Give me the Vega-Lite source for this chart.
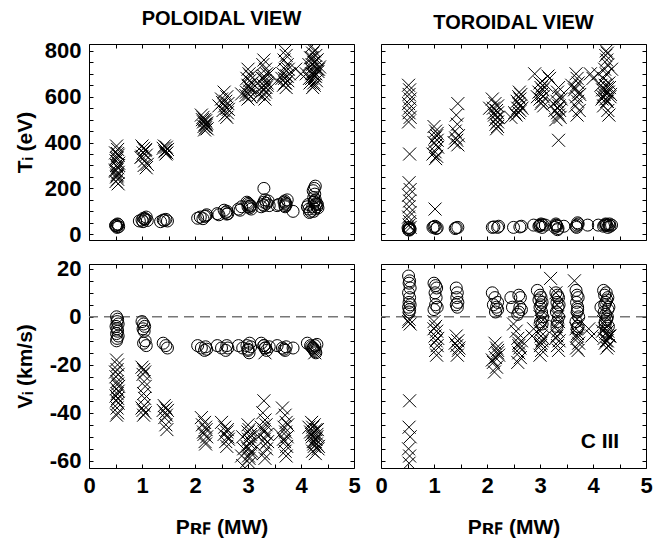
{
  "$schema": "https://vega.github.io/schema/vega-lite/v6.json",
  "background": "white",
  "padding": {"left": 13, "top": 8, "right": 0, "bottom": 0},
  "config": {
    "view": {"stroke": "black", "strokeWidth": 1},
    "font": "Liberation Sans",
    "axis": {"domain": false, "grid": false, "tickSize": -4, "tickColor": "black", "tickWidth": 1, "labelFont": "Liberation Sans", "labelFontSize": 22, "labelFontWeight": "bold", "labelColor": "black", "labelFlush": false, "labelOverlap": false, "titleFont": "Liberation Sans", "titleFontSize": 21, "titleFontWeight": "bold", "titleColor": "black", "minExtent": 0},
    "title": {"font": "Liberation Sans", "fontSize": 20, "fontWeight": "bold", "color": "black", "offset": 11}
  },
  "datasets": {
    "tlx": [{"p":0.52,"y":385},{"p":0.54,"y":370},{"p":0.5,"y":355},{"p":0.55,"y":345},{"p":0.53,"y":335},{"p":0.51,"y":320},{"p":0.56,"y":310},{"p":0.52,"y":300},{"p":0.54,"y":290},{"p":0.5,"y":280},{"p":0.55,"y":270},{"p":0.53,"y":260},{"p":0.52,"y":250},{"p":0.54,"y":240},{"p":0.51,"y":230},{"p":0.55,"y":220},{"p":0.53,"y":255},{"p":0.5,"y":275},{"p":0.56,"y":300},{"p":0.52,"y":330},{"p":0.54,"y":352},
      {"p":1.0,"y":385},{"p":1.03,"y":375},{"p":1.06,"y":365},{"p":1.02,"y":355},{"p":1.08,"y":345},{"p":0.98,"y":335},{"p":1.05,"y":320},{"p":1.1,"y":305},{"p":1.08,"y":290},{"p":1.04,"y":300},{"p":1.0,"y":340},{"p":1.07,"y":370},
      {"p":1.42,"y":385},{"p":1.46,"y":380},{"p":1.4,"y":375},{"p":1.48,"y":370},{"p":1.44,"y":365},{"p":1.43,"y":360},{"p":1.47,"y":355},{"p":1.45,"y":350},
      {"p":2.12,"y":520},{"p":2.15,"y":510},{"p":2.18,"y":500},{"p":2.2,"y":495},{"p":2.16,"y":490},{"p":2.22,"y":485},{"p":2.19,"y":480},{"p":2.21,"y":475},{"p":2.17,"y":470},{"p":2.2,"y":465},{"p":2.23,"y":460},{"p":2.18,"y":455},{"p":2.14,"y":500},{"p":2.21,"y":480},
      {"p":2.55,"y":620},{"p":2.6,"y":600},{"p":2.5,"y":590},{"p":2.58,"y":580},{"p":2.62,"y":570},{"p":2.56,"y":560},{"p":2.6,"y":550},{"p":2.53,"y":540},{"p":2.61,"y":530},{"p":2.57,"y":520},{"p":2.6,"y":510},{"p":2.45,"y":560},{"p":2.63,"y":545},{"p":2.52,"y":575},
      {"p":2.88,"y":612},{"p":3.0,"y":720},{"p":3.02,"y":700},{"p":3.05,"y":690},{"p":2.98,"y":680},{"p":3.03,"y":670},{"p":3.07,"y":660},{"p":3.0,"y":650},{"p":3.04,"y":640},{"p":3.06,"y":630},{"p":2.97,"y":620},{"p":3.02,"y":610},{"p":3.05,"y":600},{"p":3.0,"y":590},{"p":3.08,"y":660},{"p":3.01,"y":645},{"p":3.03,"y":625},{"p":2.96,"y":605},
      {"p":3.3,"y":760},{"p":3.28,"y":740},{"p":3.33,"y":720},{"p":3.35,"y":700},{"p":3.3,"y":690},{"p":3.27,"y":680},{"p":3.32,"y":670},{"p":3.36,"y":660},{"p":3.29,"y":650},{"p":3.34,"y":640},{"p":3.31,"y":630},{"p":3.33,"y":620},{"p":3.3,"y":610},{"p":3.28,"y":600},{"p":3.32,"y":590},{"p":3.36,"y":650},{"p":3.3,"y":680},{"p":3.4,"y":700},{"p":3.26,"y":640},{"p":3.2,"y":610},
      {"p":3.55,"y":670},{"p":3.7,"y":800},{"p":3.72,"y":780},{"p":3.68,"y":760},{"p":3.74,"y":740},{"p":3.7,"y":720},{"p":3.66,"y":700},{"p":3.73,"y":690},{"p":3.69,"y":680},{"p":3.75,"y":670},{"p":3.71,"y":660},{"p":3.67,"y":650},{"p":3.72,"y":640},{"p":3.78,"y":700},{"p":3.64,"y":680},{"p":3.7,"y":660},{"p":3.76,"y":720},{"p":3.74,"y":690},
      {"p":3.9,"y":720},{"p":4.0,"y":700},
      {"p":4.2,"y":820},{"p":4.25,"y":800},{"p":4.22,"y":790},{"p":4.28,"y":780},{"p":4.18,"y":770},{"p":4.3,"y":760},{"p":4.24,"y":750},{"p":4.21,"y":740},{"p":4.27,"y":730},{"p":4.19,"y":720},{"p":4.32,"y":710},{"p":4.23,"y":700},{"p":4.26,"y":690},{"p":4.2,"y":680},{"p":4.29,"y":670},{"p":4.17,"y":660},{"p":4.25,"y":650},{"p":4.22,"y":640},{"p":4.3,"y":760},{"p":4.15,"y":740},{"p":4.33,"y":720},{"p":4.28,"y":700},{"p":4.16,"y":680},{"p":4.24,"y":660},{"p":4.31,"y":720},{"p":4.2,"y":700},{"p":4.27,"y":690},{"p":4.23,"y":710},{"p":4.35,"y":730},{"p":4.26,"y":750},{"p":4.21,"y":770},{"p":4.1,"y":700}],
    "tlo": [{"p":0.52,"y":35},{"p":0.55,"y":42},{"p":0.5,"y":38},{"p":0.53,"y":30},{"p":0.54,"y":45},{"p":0.51,"y":40},{"p":0.56,"y":33},
      {"p":0.95,"y":58},{"p":1.0,"y":62},{"p":1.03,"y":70},{"p":1.05,"y":65},{"p":1.08,"y":75},{"p":1.02,"y":55},{"p":1.06,"y":68},{"p":1.1,"y":60},
      {"p":1.35,"y":55},{"p":1.42,"y":60},{"p":1.45,"y":65},{"p":1.48,"y":58},{"p":1.4,"y":62},
      {"p":2.05,"y":70},{"p":2.1,"y":75},{"p":2.15,"y":68},{"p":2.2,"y":80},{"p":2.22,"y":85},{"p":2.18,"y":78},
      {"p":2.45,"y":85},{"p":2.42,"y":90},{"p":2.58,"y":95},{"p":2.6,"y":100},{"p":2.62,"y":90},{"p":2.55,"y":105},{"p":2.6,"y":88},
      {"p":2.82,"y":110},{"p":2.88,"y":120},{"p":2.85,"y":105},{"p":3.0,"y":120},{"p":3.02,"y":130},{"p":3.05,"y":125},{"p":2.98,"y":140},{"p":3.03,"y":115},{"p":3.06,"y":110},{"p":3.0,"y":135},{"p":3.04,"y":122},
      {"p":3.25,"y":120},{"p":3.28,"y":130},{"p":3.3,"y":140},{"p":3.32,"y":150},{"p":3.35,"y":135},{"p":3.3,"y":125},{"p":3.3,"y":200},{"p":3.4,"y":125},{"p":3.38,"y":145},
      {"p":3.55,"y":125},{"p":3.58,"y":130},{"p":3.7,"y":120},{"p":3.72,"y":130},{"p":3.68,"y":140},{"p":3.74,"y":150},{"p":3.7,"y":125},{"p":3.71,"y":135},{"p":3.69,"y":145},{"p":3.85,"y":100},
      {"p":4.12,"y":120},{"p":4.15,"y":110},{"p":4.18,"y":100},{"p":4.14,"y":130},{"p":4.16,"y":95},{"p":4.25,"y":140},{"p":4.27,"y":150},{"p":4.24,"y":160},{"p":4.26,"y":175},{"p":4.25,"y":200},{"p":4.27,"y":210},{"p":4.23,"y":190},{"p":4.28,"y":130},{"p":4.22,"y":120},{"p":4.26,"y":110},{"p":4.24,"y":100},{"p":4.29,"y":135},{"p":4.25,"y":145},{"p":4.3,"y":120},{"p":4.32,"y":115},{"p":4.31,"y":130}],
    "trx": [{"p":0.52,"y":650},{"p":0.54,"y":630},{"p":0.53,"y":610},{"p":0.55,"y":590},{"p":0.52,"y":570},{"p":0.54,"y":550},{"p":0.53,"y":530},{"p":0.55,"y":510},{"p":0.52,"y":490},{"p":0.54,"y":350},{"p":0.53,"y":225},{"p":0.55,"y":195},{"p":0.52,"y":170},{"p":0.54,"y":145},{"p":0.53,"y":120},{"p":0.55,"y":95},{"p":0.52,"y":75},{"p":0.54,"y":55},{"p":0.53,"y":40},{"p":0.55,"y":30},
      {"p":1.0,"y":470},{"p":1.03,"y":450},{"p":1.05,"y":430},{"p":1.02,"y":420},{"p":1.06,"y":410},{"p":1.0,"y":400},{"p":1.04,"y":390},{"p":1.07,"y":380},{"p":1.02,"y":360},{"p":1.05,"y":340},{"p":1.03,"y":330},{"p":0.98,"y":350},{"p":1.06,"y":440},{"p":1.02,"y":110},
      {"p":1.45,"y":570},{"p":1.42,"y":520},{"p":1.44,"y":480},{"p":1.4,"y":450},{"p":1.46,"y":430},{"p":1.43,"y":410},{"p":1.38,"y":400},{"p":1.45,"y":390},{"p":1.41,"y":420},
      {"p":2.1,"y":590},{"p":2.15,"y":570},{"p":2.2,"y":560},{"p":2.12,"y":550},{"p":2.18,"y":540},{"p":2.2,"y":530},{"p":2.14,"y":520},{"p":2.19,"y":510},{"p":2.16,"y":500},{"p":2.2,"y":490},{"p":2.17,"y":480},{"p":2.2,"y":470},{"p":2.18,"y":460},{"p":2.05,"y":550},{"p":2.13,"y":530},{"p":2.21,"y":510},
      {"p":2.45,"y":510},{"p":2.55,"y":520},{"p":2.6,"y":530},{"p":2.62,"y":540},{"p":2.58,"y":550},{"p":2.63,"y":560},{"p":2.6,"y":570},{"p":2.57,"y":580},{"p":2.62,"y":590},{"p":2.6,"y":600},{"p":2.64,"y":610},{"p":2.61,"y":620},{"p":2.52,"y":530},{"p":2.66,"y":550},
      {"p":2.9,"y":700},{"p":3.0,"y":660},{"p":3.02,"y":640},{"p":3.05,"y":630},{"p":2.98,"y":620},{"p":3.03,"y":610},{"p":3.06,"y":600},{"p":3.0,"y":590},{"p":3.04,"y":580},{"p":3.02,"y":570},{"p":3.07,"y":560},{"p":3.15,"y":690},{"p":3.18,"y":680},{"p":3.12,"y":650},{"p":2.95,"y":600},{"p":3.05,"y":650},
      {"p":3.35,"y":640},{"p":3.33,"y":620},{"p":3.38,"y":600},{"p":3.32,"y":580},{"p":3.36,"y":560},{"p":3.34,"y":550},{"p":3.37,"y":540},{"p":3.33,"y":530},{"p":3.35,"y":520},{"p":3.38,"y":510},{"p":3.3,"y":500},{"p":3.35,"y":410},{"p":3.4,"y":590},{"p":3.25,"y":570},{"p":3.28,"y":540},
      {"p":3.68,"y":700},{"p":3.7,"y":680},{"p":3.72,"y":660},{"p":3.66,"y":640},{"p":3.73,"y":620},{"p":3.69,"y":600},{"p":3.71,"y":580},{"p":3.67,"y":560},{"p":3.74,"y":540},{"p":3.7,"y":520},{"p":3.6,"y":650},{"p":3.65,"y":630},{"p":3.75,"y":610},
      {"p":3.95,"y":700},{"p":4.0,"y":680},
      {"p":4.25,"y":800},{"p":4.27,"y":790},{"p":4.24,"y":780},{"p":4.26,"y":760},{"p":4.28,"y":740},{"p":4.22,"y":720},{"p":4.25,"y":700},{"p":4.2,"y":680},{"p":4.3,"y":660},{"p":4.23,"y":650},{"p":4.27,"y":640},{"p":4.18,"y":630},{"p":4.29,"y":620},{"p":4.21,"y":610},{"p":4.32,"y":600},{"p":4.24,"y":590},{"p":4.26,"y":580},{"p":4.2,"y":560},{"p":4.28,"y":540},{"p":4.3,"y":520},{"p":4.15,"y":650},{"p":4.22,"y":630},{"p":4.33,"y":610},{"p":4.17,"y":590},{"p":4.26,"y":620},{"p":4.31,"y":640},{"p":4.19,"y":600},{"p":4.27,"y":580},{"p":4.1,"y":700},{"p":4.35,"y":720}],
    "tro": [{"p":0.52,"y":20},{"p":0.54,"y":25},{"p":0.53,"y":30},{"p":0.55,"y":22},{"p":0.51,"y":28},{"p":0.53,"y":18},
      {"p":0.98,"y":30},{"p":1.02,"y":35},{"p":1.04,"y":25},{"p":1.0,"y":32},{"p":1.06,"y":28},
      {"p":1.4,"y":25},{"p":1.45,"y":30},{"p":1.42,"y":28},
      {"p":2.1,"y":30},{"p":2.13,"y":32},{"p":2.2,"y":30},{"p":2.22,"y":35},
      {"p":2.5,"y":30},{"p":2.62,"y":32},{"p":2.65,"y":35},
      {"p":2.88,"y":40},{"p":2.98,"y":35},{"p":3.0,"y":40},{"p":3.02,"y":45},{"p":3.04,"y":30},{"p":3.0,"y":38},{"p":3.05,"y":42},{"p":3.1,"y":40},
      {"p":3.28,"y":30},{"p":3.3,"y":40},{"p":3.32,"y":35},{"p":3.34,"y":25},{"p":3.3,"y":45},{"p":3.31,"y":38},{"p":3.33,"y":20},{"p":3.45,"y":35},
      {"p":3.68,"y":35},{"p":3.7,"y":40},{"p":3.72,"y":45},{"p":3.69,"y":30},{"p":3.71,"y":50},{"p":3.9,"y":40},
      {"p":4.1,"y":40},{"p":4.2,"y":35},{"p":4.22,"y":40},{"p":4.24,"y":45},{"p":4.26,"y":38},{"p":4.25,"y":42},{"p":4.28,"y":30},{"p":4.3,"y":40},{"p":4.32,"y":35},{"p":4.31,"y":45},{"p":4.35,"y":40}],
    "blx": [{"p":0.52,"y":-18},{"p":0.54,"y":-20},{"p":0.53,"y":-22},{"p":0.55,"y":-24},{"p":0.51,"y":-25},{"p":0.53,"y":-27},{"p":0.54,"y":-28},{"p":0.52,"y":-30},{"p":0.55,"y":-31},{"p":0.53,"y":-32},{"p":0.51,"y":-33},{"p":0.54,"y":-34},{"p":0.52,"y":-35},{"p":0.55,"y":-36},{"p":0.53,"y":-38},{"p":0.54,"y":-40},{"p":0.52,"y":-41},{"p":0.5,"y":-23},{"p":0.56,"y":-29},
      {"p":1.0,"y":-21},{"p":1.03,"y":-22},{"p":1.05,"y":-23},{"p":1.02,"y":-24},{"p":1.04,"y":-27},{"p":1.06,"y":-29},{"p":1.03,"y":-32},{"p":1.05,"y":-34},{"p":1.04,"y":-37},{"p":1.02,"y":-39},{"p":1.06,"y":-40},{"p":1.03,"y":-41},{"p":1.0,"y":-38},
      {"p":1.42,"y":-37},{"p":1.45,"y":-38},{"p":1.48,"y":-39},{"p":1.44,"y":-40},{"p":1.46,"y":-41},{"p":1.43,"y":-42},{"p":1.45,"y":-45},{"p":1.47,"y":-47},{"p":1.4,"y":-39},
      {"p":2.12,"y":-42},{"p":2.18,"y":-44},{"p":2.2,"y":-46},{"p":2.16,"y":-48},{"p":2.22,"y":-50},{"p":2.19,"y":-52},{"p":2.2,"y":-53},{"p":2.14,"y":-45},{"p":2.21,"y":-47},{"p":2.17,"y":-49},
      {"p":2.5,"y":-44},{"p":2.56,"y":-46},{"p":2.6,"y":-48},{"p":2.62,"y":-50},{"p":2.58,"y":-52},{"p":2.6,"y":-54},{"p":2.63,"y":-51},{"p":2.55,"y":-49},{"p":2.61,"y":-47},
      {"p":2.9,"y":-62},{"p":2.88,"y":-58},{"p":2.92,"y":-55},{"p":2.9,"y":-50},{"p":3.0,"y":-45},{"p":3.02,"y":-47},{"p":3.05,"y":-49},{"p":3.01,"y":-51},{"p":3.04,"y":-53},{"p":3.0,"y":-55},{"p":3.06,"y":-57},{"p":3.02,"y":-59},{"p":3.03,"y":-61},{"p":3.05,"y":-52},{"p":2.98,"y":-54},{"p":3.07,"y":-56},{"p":3.01,"y":-58},{"p":3.04,"y":-50},{"p":3.0,"y":-48},
      {"p":3.3,"y":-35},{"p":3.28,"y":-40},{"p":3.32,"y":-43},{"p":3.34,"y":-45},{"p":3.3,"y":-47},{"p":3.36,"y":-49},{"p":3.31,"y":-51},{"p":3.33,"y":-53},{"p":3.35,"y":-55},{"p":3.29,"y":-57},{"p":3.32,"y":-59},{"p":3.37,"y":-52},{"p":3.3,"y":-48},{"p":3.25,"y":-46},{"p":3.2,"y":-50},{"p":3.32,"y":-15},
      {"p":3.65,"y":-38},{"p":3.7,"y":-41},{"p":3.72,"y":-44},{"p":3.68,"y":-46},{"p":3.71,"y":-48},{"p":3.74,"y":-50},{"p":3.69,"y":-52},{"p":3.73,"y":-54},{"p":3.7,"y":-56},{"p":3.72,"y":-58},{"p":3.6,"y":-49},{"p":3.75,"y":-45},{"p":3.67,"y":-51},
      {"p":4.2,"y":-44},{"p":4.25,"y":-45},{"p":4.22,"y":-46},{"p":4.28,"y":-47},{"p":4.24,"y":-48},{"p":4.3,"y":-49},{"p":4.21,"y":-50},{"p":4.27,"y":-51},{"p":4.23,"y":-52},{"p":4.29,"y":-53},{"p":4.25,"y":-54},{"p":4.32,"y":-55},{"p":4.22,"y":-56},{"p":4.27,"y":-57},{"p":4.18,"y":-48},{"p":4.3,"y":-50},{"p":4.26,"y":-52},{"p":4.15,"y":-46},{"p":4.33,"y":-54},{"p":4.2,"y":-49},{"p":4.28,"y":-51},{"p":4.24,"y":-53},{"p":4.31,"y":-47},{"p":4.26,"y":-15}],
    "blo": [{"p":0.52,"y":0},{"p":0.54,"y":-1},{"p":0.53,"y":-2},{"p":0.55,"y":-3},{"p":0.51,"y":-4},{"p":0.53,"y":-5},{"p":0.54,"y":-6},{"p":0.52,"y":-7},{"p":0.55,"y":-8},{"p":0.53,"y":-9},{"p":0.52,"y":-10},
      {"p":1.0,"y":-2},{"p":1.03,"y":-3},{"p":1.05,"y":-4},{"p":1.02,"y":-5},{"p":1.04,"y":-6},{"p":1.06,"y":-10},{"p":1.03,"y":-11},{"p":1.08,"y":-12},
      {"p":1.4,"y":-11},{"p":1.45,"y":-12},{"p":1.48,"y":-13},
      {"p":2.05,"y":-12},{"p":2.12,"y":-13},{"p":2.18,"y":-14},{"p":2.2,"y":-12.5},{"p":2.22,"y":-13.5},
      {"p":2.42,"y":-12},{"p":2.5,"y":-13},{"p":2.58,"y":-14},{"p":2.6,"y":-12},{"p":2.62,"y":-13},
      {"p":2.82,"y":-12},{"p":2.9,"y":-13},{"p":3.0,"y":-14},{"p":3.02,"y":-15},{"p":3.05,"y":-12.5},{"p":3.0,"y":-13.5},{"p":3.03,"y":-11},{"p":2.98,"y":-12},
      {"p":3.25,"y":-11},{"p":3.3,"y":-12},{"p":3.33,"y":-13},{"p":3.35,"y":-14},{"p":3.3,"y":-12},{"p":3.32,"y":-13},{"p":3.4,"y":-12.5},
      {"p":3.55,"y":-12},{"p":3.65,"y":-13},{"p":3.7,"y":-14},{"p":3.72,"y":-12.5},{"p":3.68,"y":-13.5},{"p":3.85,"y":-13},
      {"p":4.12,"y":-11},{"p":4.18,"y":-12},{"p":4.22,"y":-13},{"p":4.25,"y":-14},{"p":4.28,"y":-15},{"p":4.2,"y":-12.5},{"p":4.24,"y":-13.5},{"p":4.27,"y":-14.5},{"p":4.3,"y":-11.5},{"p":4.26,"y":-12},{"p":4.23,"y":-13}],
    "bro": [{"p":0.52,"y":17},{"p":0.54,"y":15},{"p":0.53,"y":14},{"p":0.55,"y":12},{"p":0.52,"y":10},{"p":0.54,"y":8},{"p":0.53,"y":6},{"p":0.55,"y":5},{"p":0.52,"y":4},{"p":0.54,"y":3},{"p":0.53,"y":2},
      {"p":1.0,"y":14},{"p":1.03,"y":13},{"p":1.05,"y":12},{"p":1.02,"y":10},{"p":1.04,"y":8},{"p":1.03,"y":5},{"p":1.06,"y":4},{"p":1.0,"y":3},
      {"p":1.42,"y":12},{"p":1.44,"y":10},{"p":1.43,"y":8},{"p":1.45,"y":6},{"p":1.42,"y":5},{"p":1.44,"y":4},
      {"p":2.1,"y":10},{"p":2.15,"y":8},{"p":2.2,"y":6},{"p":2.12,"y":5},{"p":2.18,"y":4},{"p":2.2,"y":3},{"p":2.16,"y":2},
      {"p":2.45,"y":8},{"p":2.48,"y":4},{"p":2.6,"y":9},{"p":2.63,"y":8},{"p":2.62,"y":4},{"p":2.65,"y":3},{"p":2.6,"y":2},{"p":2.58,"y":1},
      {"p":2.95,"y":11},{"p":3.0,"y":9},{"p":3.02,"y":8},{"p":3.04,"y":6},{"p":3.0,"y":4},{"p":3.03,"y":2},{"p":3.05,"y":0},{"p":3.01,"y":-2},{"p":3.04,"y":-3},{"p":2.98,"y":7},{"p":3.02,"y":5},
      {"p":3.3,"y":10},{"p":3.33,"y":9},{"p":3.35,"y":8},{"p":3.32,"y":6},{"p":3.34,"y":4},{"p":3.31,"y":2},{"p":3.35,"y":0},{"p":3.33,"y":-2},{"p":3.32,"y":-4},{"p":3.36,"y":5},
      {"p":3.68,"y":11},{"p":3.7,"y":9},{"p":3.72,"y":8},{"p":3.69,"y":6},{"p":3.71,"y":4},{"p":3.7,"y":2},{"p":3.73,"y":0},{"p":3.68,"y":-2},{"p":3.72,"y":-4},{"p":3.7,"y":-5},{"p":3.71,"y":3},
      {"p":4.2,"y":11},{"p":4.25,"y":10},{"p":4.22,"y":9},{"p":4.28,"y":8},{"p":4.24,"y":6},{"p":4.3,"y":4},{"p":4.21,"y":2},{"p":4.27,"y":0},{"p":4.23,"y":-2},{"p":4.29,"y":-4},{"p":4.25,"y":-6},{"p":4.26,"y":7},{"p":4.22,"y":5},{"p":4.28,"y":3},{"p":4.24,"y":1},{"p":4.26,"y":-1},{"p":4.23,"y":-3},{"p":4.15,"y":4}],
    "brx": [{"p":0.53,"y":-1},{"p":0.55,"y":-3},{"p":0.52,"y":-2},{"p":0.54,"y":-35},{"p":0.53,"y":-46},{"p":0.55,"y":-50},{"p":0.52,"y":-55},{"p":0.54,"y":-58},{"p":0.53,"y":-61},
      {"p":1.0,"y":-2},{"p":1.03,"y":-4},{"p":1.05,"y":-6},{"p":1.02,"y":-8},{"p":1.04,"y":-10},{"p":1.06,"y":-12},{"p":1.03,"y":-14},{"p":1.05,"y":-16},{"p":1.0,"y":-5},{"p":1.07,"y":-9},
      {"p":1.42,"y":-8},{"p":1.45,"y":-10},{"p":1.43,"y":-12},{"p":1.46,"y":-14},{"p":1.44,"y":-16},{"p":1.4,"y":-11},{"p":1.47,"y":-13},
      {"p":2.15,"y":-11},{"p":2.18,"y":-13},{"p":2.2,"y":-15},{"p":2.16,"y":-17},{"p":2.12,"y":-19},{"p":2.18,"y":-21},{"p":2.14,"y":-23},{"p":2.2,"y":-14},{"p":2.22,"y":-16},{"p":2.1,"y":-18},
      {"p":2.5,"y":-3},{"p":2.55,"y":-6},{"p":2.58,"y":-9},{"p":2.6,"y":-11},{"p":2.62,"y":-13},{"p":2.6,"y":-15},{"p":2.63,"y":-17},{"p":2.58,"y":-19},{"p":2.65,"y":-10},{"p":2.6,"y":-12},
      {"p":2.88,"y":-5},{"p":2.85,"y":-8},
      {"p":3.02,"y":3},{"p":3.0,"y":0},{"p":3.03,"y":-2},{"p":3.05,"y":-4},{"p":3.0,"y":-6},{"p":3.02,"y":-8},{"p":3.04,"y":-10},{"p":3.01,"y":-12},{"p":3.03,"y":-14},{"p":3.0,"y":-16},{"p":3.06,"y":-9},{"p":3.02,"y":-11},
      {"p":3.2,"y":16},{"p":3.3,"y":10},{"p":3.32,"y":5},{"p":3.33,"y":0},{"p":3.35,"y":-2},{"p":3.3,"y":-4},{"p":3.34,"y":-6},{"p":3.32,"y":-8},{"p":3.36,"y":-10},{"p":3.33,"y":-12},{"p":3.35,"y":-14},{"p":3.3,"y":-9},
      {"p":3.65,"y":15},{"p":3.7,"y":-1},{"p":3.72,"y":-3},{"p":3.68,"y":-5},{"p":3.71,"y":-7},{"p":3.7,"y":-9},{"p":3.73,"y":-11},{"p":3.69,"y":-13},{"p":3.72,"y":-14},{"p":3.7,"y":-8},
      {"p":3.92,"y":-5},{"p":3.98,"y":-8},
      {"p":4.2,"y":-2},{"p":4.25,"y":-4},{"p":4.22,"y":-5},{"p":4.28,"y":-6},{"p":4.24,"y":-7},{"p":4.3,"y":-8},{"p":4.21,"y":-9},{"p":4.27,"y":-10},{"p":4.23,"y":-11},{"p":4.29,"y":-12},{"p":4.26,"y":-13},{"p":4.18,"y":-6},{"p":4.32,"y":-8},{"p":4.25,"y":-10}],
    "zero": [{"z":0}],
    "lab": [{"p":4.13,"y":-52,"t":"C III"}]
  },
  "vconcat": [
    {
      "hconcat": [
        {
          "title": {"text": "POLOIDAL VIEW"},
          "width": 265, "height": 196,
          "layer": [
            {"data": {"name": "tlo"},
             "mark": {"type": "point", "shape": "circle", "filled": false, "color": "black", "strokeWidth": 1, "size": 144, "opacity": 1, "clip": true},
             "encoding": {
               "x": {"field": "p", "type": "quantitative", "scale": {"domain": [0, 5], "nice": false, "zero": false}, "axis": {"orient": "bottom", "values": [0,0.5,1,1.5,2,2.5,3,3.5,4,4.5,5], "labels": false, "title": null}},
               "y": {"field": "y", "type": "quantitative", "scale": {"domain": [-25, 830], "nice": false, "zero": false}, "axis": {"orient": "left", "values": [0,50,100,150,200,250,300,350,400,450,500,550,600,650,700,750,800], "labelExpr": "datum.value % 200 === 0 ? '' + datum.value : ''", "labelPadding": 12, "minExtent": 46, "maxExtent": 46, "title": "Tᵢ (eV)", "titlePadding": 8}}
             }},
            {"data": {"name": "tlx"},
             "mark": {"type": "point", "shape": "M-1,-1L1,1M1,-1L-1,1", "filled": false, "color": "black", "strokeWidth": 1, "size": 169, "opacity": 1, "clip": true},
             "encoding": {
               "x": {"field": "p", "type": "quantitative", "scale": {"domain": [0, 5], "nice": false, "zero": false}, "axis": {"orient": "top", "values": [0,0.5,1,1.5,2,2.5,3,3.5,4,4.5,5], "labels": false, "title": null}},
               "y": {"field": "y", "type": "quantitative", "scale": {"domain": [-25, 830], "nice": false, "zero": false}, "axis": {"orient": "right", "values": [0,50,100,150,200,250,300,350,400,450,500,550,600,650,700,750,800], "labels": false, "title": null}}
             }}
          ],
          "resolve": {"axis": {"x": "independent", "y": "independent"}}
        },
        {
          "title": {"text": "TOROIDAL VIEW"},
          "width": 265, "height": 196,
          "layer": [
            {"data": {"name": "tro"},
             "mark": {"type": "point", "shape": "circle", "filled": false, "color": "black", "strokeWidth": 1, "size": 144, "opacity": 1, "clip": true},
             "encoding": {
               "x": {"field": "p", "type": "quantitative", "scale": {"domain": [0, 5], "nice": false, "zero": false}, "axis": {"orient": "bottom", "values": [0,0.5,1,1.5,2,2.5,3,3.5,4,4.5,5], "labels": false, "title": null}},
               "y": {"field": "y", "type": "quantitative", "scale": {"domain": [-25, 830], "nice": false, "zero": false}, "axis": {"orient": "left", "values": [0,50,100,150,200,250,300,350,400,450,500,550,600,650,700,750,800], "labels": false, "title": null}}
             }},
            {"data": {"name": "trx"},
             "mark": {"type": "point", "shape": "M-1,-1L1,1M1,-1L-1,1", "filled": false, "color": "black", "strokeWidth": 1, "size": 169, "opacity": 1, "clip": true},
             "encoding": {
               "x": {"field": "p", "type": "quantitative", "scale": {"domain": [0, 5], "nice": false, "zero": false}, "axis": {"orient": "top", "values": [0,0.5,1,1.5,2,2.5,3,3.5,4,4.5,5], "labels": false, "title": null}},
               "y": {"field": "y", "type": "quantitative", "scale": {"domain": [-25, 830], "nice": false, "zero": false}, "axis": {"orient": "right", "values": [0,50,100,150,200,250,300,350,400,450,500,550,600,650,700,750,800], "labels": false, "title": null}}
             }}
          ],
          "resolve": {"axis": {"x": "independent", "y": "independent"}}
        }
      ],
      "spacing": 27,
      "bounds": "flush"
    },
    {
      "hconcat": [
        {
          "width": 265, "height": 204,
          "layer": [
            {"data": {"name": "zero"},
             "mark": {"type": "rule", "color": "#777777", "strokeWidth": 1.5, "strokeDash": [10, 6]},
             "encoding": {"y": {"field": "z", "type": "quantitative", "scale": {"domain": [-63, 22], "nice": false, "zero": false}, "axis": null}}},
            {"data": {"name": "blo"},
             "mark": {"type": "point", "shape": "circle", "filled": false, "color": "black", "strokeWidth": 1, "size": 144, "opacity": 1, "clip": true},
             "encoding": {
               "x": {"field": "p", "type": "quantitative", "scale": {"domain": [0, 5], "nice": false, "zero": false}, "axis": {"orient": "bottom", "values": [0,0.5,1,1.5,2,2.5,3,3.5,4,4.5,5], "labelExpr": "datum.value % 1 === 0 ? '' + datum.value : ''", "labelPadding": 11, "title": "Pʀꜰ (MW)", "titlePadding": 20}},
               "y": {"field": "y", "type": "quantitative", "scale": {"domain": [-63, 22], "nice": false, "zero": false}, "axis": {"orient": "left", "values": [-60,-55,-50,-45,-40,-35,-30,-25,-20,-15,-10,-5,0,5,10,15,20], "labelExpr": "datum.value % 20 === 0 ? '' + datum.value : ''", "labelPadding": 12, "minExtent": 46, "maxExtent": 46, "title": "Vᵢ (km/s)", "titlePadding": 8}}
             }},
            {"data": {"name": "blx"},
             "mark": {"type": "point", "shape": "M-1,-1L1,1M1,-1L-1,1", "filled": false, "color": "black", "strokeWidth": 1, "size": 169, "opacity": 1, "clip": true},
             "encoding": {
               "x": {"field": "p", "type": "quantitative", "scale": {"domain": [0, 5], "nice": false, "zero": false}, "axis": {"orient": "top", "values": [0,0.5,1,1.5,2,2.5,3,3.5,4,4.5,5], "labels": false, "title": null}},
               "y": {"field": "y", "type": "quantitative", "scale": {"domain": [-63, 22], "nice": false, "zero": false}, "axis": {"orient": "right", "values": [-60,-55,-50,-45,-40,-35,-30,-25,-20,-15,-10,-5,0,5,10,15,20], "labels": false, "title": null}}
             }}
          ],
          "resolve": {"axis": {"x": "independent", "y": "independent"}}
        },
        {
          "width": 265, "height": 204,
          "layer": [
            {"data": {"name": "zero"},
             "mark": {"type": "rule", "color": "#777777", "strokeWidth": 1.5, "strokeDash": [10, 6]},
             "encoding": {"y": {"field": "z", "type": "quantitative", "scale": {"domain": [-63, 22], "nice": false, "zero": false}, "axis": null}}},
            {"data": {"name": "bro"},
             "mark": {"type": "point", "shape": "circle", "filled": false, "color": "black", "strokeWidth": 1, "size": 144, "opacity": 1, "clip": true},
             "encoding": {
               "x": {"field": "p", "type": "quantitative", "scale": {"domain": [0, 5], "nice": false, "zero": false}, "axis": {"orient": "bottom", "values": [0,0.5,1,1.5,2,2.5,3,3.5,4,4.5,5], "labelExpr": "datum.value % 1 === 0 ? '' + datum.value : ''", "labelPadding": 11, "title": "Pʀꜰ (MW)", "titlePadding": 20}},
               "y": {"field": "y", "type": "quantitative", "scale": {"domain": [-63, 22], "nice": false, "zero": false}, "axis": {"orient": "left", "values": [-60,-55,-50,-45,-40,-35,-30,-25,-20,-15,-10,-5,0,5,10,15,20], "labels": false, "title": null}}
             }},
            {"data": {"name": "brx"},
             "mark": {"type": "point", "shape": "M-1,-1L1,1M1,-1L-1,1", "filled": false, "color": "black", "strokeWidth": 1, "size": 169, "opacity": 1, "clip": true},
             "encoding": {
               "x": {"field": "p", "type": "quantitative", "scale": {"domain": [0, 5], "nice": false, "zero": false}, "axis": {"orient": "top", "values": [0,0.5,1,1.5,2,2.5,3,3.5,4,4.5,5], "labels": false, "title": null}},
               "y": {"field": "y", "type": "quantitative", "scale": {"domain": [-63, 22], "nice": false, "zero": false}, "axis": {"orient": "right", "values": [-60,-55,-50,-45,-40,-35,-30,-25,-20,-15,-10,-5,0,5,10,15,20], "labels": false, "title": null}}
             }},
            {"data": {"name": "lab"},
             "mark": {"type": "text", "font": "Liberation Sans", "fontSize": 21, "fontWeight": "bold", "color": "black", "align": "center", "baseline": "middle"},
             "encoding": {
               "x": {"field": "p", "type": "quantitative", "scale": {"domain": [0, 5], "nice": false, "zero": false}, "axis": null},
               "y": {"field": "y", "type": "quantitative", "scale": {"domain": [-63, 22], "nice": false, "zero": false}, "axis": null},
               "text": {"field": "t"}
             }}
          ],
          "resolve": {"axis": {"x": "independent", "y": "independent"}}
        }
      ],
      "spacing": 27,
      "bounds": "flush"
    }
  ],
  "spacing": 11
}
